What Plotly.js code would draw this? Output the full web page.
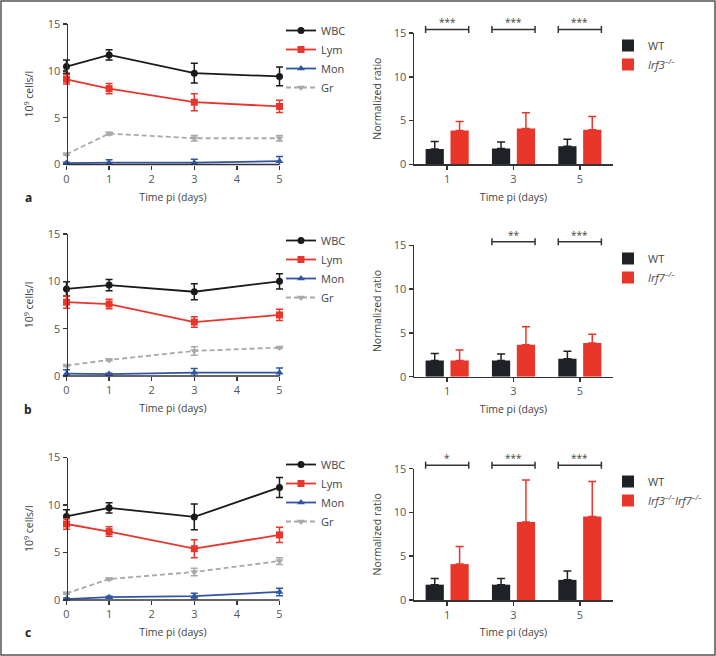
<!DOCTYPE html>
<html>
<head>
<meta charset="utf-8">
<script src="https://cdn.plot.ly/plotly-3.0.1.min.js"></script>
<style>html,body{margin:0;padding:0;background:#fff;}#chart{width:716px;height:656px;}</style>
</head>
<body>
<div id="chart"></div>
<script>
// ---------- DATA ----------
const days = [0, 1, 3, 5];
const cellTypes = ["WBC", "Lym", "Mon", "Gr"];

// panel a (Irf3-/-)
const a_WBC = [10.45, 11.7, 9.75, 9.4];   const a_WBC_sd = [0.7, 0.55, 1.05, 1.0];
const a_Lym = [9.1, 8.1, 6.65, 6.2];      const a_Lym_sd = [0.5, 0.55, 0.9, 0.65];
const a_Mon = [0.15, 0.2, 0.2, 0.35];     const a_Mon_sd = [0.1, 0.3, 0.35, 0.5];
const a_Gr  = [1.1, 3.3, 2.8, 2.8];       const a_Gr_sd  = [0.1, 0.15, 0.3, 0.3];
// panel b (Irf7-/-)
const b_WBC = [9.2, 9.6, 8.9, 10.0];      const b_WBC_sd = [0.75, 0.6, 0.85, 0.8];
const b_Lym = [7.8, 7.6, 5.7, 6.45];      const b_Lym_sd = [0.65, 0.5, 0.55, 0.6];
const b_Mon = [0.25, 0.2, 0.35, 0.35];    const b_Mon_sd = [0.4, 0.1, 0.45, 0.5];
const b_Gr  = [1.1, 1.7, 2.65, 3.0];      const b_Gr_sd  = [0.1, 0.1, 0.45, 0.1];
// panel c (Irf3-/-Irf7-/-)
const c_WBC = [8.8, 9.7, 8.75, 11.85];    const c_WBC_sd = [0.7, 0.55, 1.35, 1.05];
const c_Lym = [8.0, 7.2, 5.4, 6.85];      const c_Lym_sd = [0.55, 0.5, 0.95, 0.8];
const c_Mon = [0.1, 0.3, 0.4, 0.85];      const c_Mon_sd = [0.1, 0.1, 0.3, 0.4];
const c_Gr  = [0.7, 2.2, 2.95, 4.1];      const c_Gr_sd  = [0.1, 0.1, 0.4, 0.35];

// bar charts: normalized ratio
const barDays = ["1", "3", "5"];
const a_WT = [1.75, 1.8, 2.05];   const a_WT_sd = [0.85, 0.75, 0.8];
const a_KO = [3.85, 4.1, 3.95];   const a_KO_sd = [1.05, 1.8, 1.5];
const b_WT = [1.85, 1.85, 2.05];  const b_WT_sd = [0.8, 0.75, 0.85];
const b_KO = [1.85, 3.65, 3.85];  const b_KO_sd = [1.2, 2.05, 1.0];
const c_WT = [1.75, 1.75, 2.3];   const c_WT_sd = [0.7, 0.7, 1.0];
const c_KO = [4.1, 8.9, 9.55];    const c_KO_sd = [2.0, 4.8, 4.0];

const a_sig = ["***", "***", "***"];
const b_sig = ["", "**", "***"];
const c_sig = ["*", "***", "***"];
const sigLevel = 15.4;

const koNames = ["<i>Irf3<sup>–/–</sup></i>", "<i>Irf7<sup>–/–</sup></i>", "<i>Irf3<sup>–/–</sup>Irf7<sup>–/–</sup></i>"];
const panelLetters = ["a", "b", "c"];

// ---------- STYLE ----------
const W = 716, H = 656;
const FONT = "Open Sans, DejaVu Sans, sans-serif";
const AX = "#333333", TXT = "#555555";
const colors = {WBC: "#1a1a1a", Lym: "#e8362c", Mon: "#2f55a4", Gr: "#a9a9a9"};
const symbols = {WBC: "circle", Lym: "square", Mon: "triangle-up", Gr: "triangle-down"};
const WTcol = "#1e2227", KOcol = "#e8362b";

function px2x(p) { return p / W; }
function px2y(p) { return 1 - p / H; }

const rows = [
  {lb: 164.5, lt: 24, rb: 164.3, rt: 33, legL: 16, legR: 31, letterY: 197},
  {lb: 376, lt: 234, rb: 376.7, rt: 245.3, legL: 226, legR: 244, letterY: 409},
  {lb: 600, lt: 457.5, rb: 600, rt: 468.7, legL: 450, legR: 467, letterY: 632}
];

const lineSets = [
  [[a_WBC, a_WBC_sd], [a_Lym, a_Lym_sd], [a_Mon, a_Mon_sd], [a_Gr, a_Gr_sd]],
  [[b_WBC, b_WBC_sd], [b_Lym, b_Lym_sd], [b_Mon, b_Mon_sd], [b_Gr, b_Gr_sd]],
  [[c_WBC, c_WBC_sd], [c_Lym, c_Lym_sd], [c_Mon, c_Mon_sd], [c_Gr, c_Gr_sd]]
];
const barSets = [
  [a_WT, a_WT_sd, a_KO, a_KO_sd, a_sig],
  [b_WT, b_WT_sd, b_KO, b_KO_sd, b_sig],
  [c_WT, c_WT_sd, c_KO, c_KO_sd, c_sig]
];

const traces = [];
const layout = {
  width: W, height: H,
  margin: {l: 0, r: 0, t: 0, b: 0},
  paper_bgcolor: "#fff", plot_bgcolor: "#fff",
  font: {family: FONT, size: 11, color: TXT},
  barmode: "group",
  showlegend: true,
  shapes: [], annotations: []
};

function axisBase() {
  return {
    showgrid: false, zeroline: false, showline: true, linecolor: AX, linewidth: 1.5,
    ticks: "outside", ticklen: 4, tickwidth: 1.5, tickcolor: AX,
    tickfont: {family: FONT, size: 11, color: TXT}, fixedrange: true
  };
}

// left chart: x from 0 to 5 spans 66.5..279.5 px; a small pad keeps error caps unclipped
const lx0 = 66.5, lx1 = 279.5, pad = 0.12;
const pxPerDay = (lx1 - lx0) / 5;

rows.forEach((r, i) => {
  const lx = 2 * i + 1, rx = 2 * i + 2;
  const lxName = lx === 1 ? "x" : "x" + lx, lyName = lx === 1 ? "y" : "y" + lx;
  const rxName = "x" + rx, ryName = "y" + rx;
  const lxKey = lx === 1 ? "xaxis" : "xaxis" + lx, lyKey = lx === 1 ? "yaxis" : "yaxis" + lx;
  const rxKey = "xaxis" + rx, ryKey = "yaxis" + rx;
  const legL = lx === 1 ? "legend" : "legend" + lx;
  const legR = "legend" + rx;

  // ----- line chart -----
  cellTypes.forEach((ct, k) => {
    const [vals, sd] = lineSets[i][k];
    traces.push({
      type: "scatter", mode: "lines+markers", x: days, y: vals, name: ct,
      xaxis: lxName, yaxis: lyName, legend: legL, cliponaxis: false,
      line: {color: colors[ct], width: 1.8, dash: ct === "Gr" ? "5px,3px" : "solid"},
      marker: {symbol: symbols[ct], size: 7, color: colors[ct]},
      error_y: {type: "data", array: sd, visible: true, color: colors[ct], thickness: 1.5, width: 3.5}
    });
  });
  layout[lxKey] = Object.assign(axisBase(), {
    domain: [px2x(lx0 - pad * pxPerDay), px2x(lx1 + pad * pxPerDay)], range: [-pad, 5 + pad], anchor: lyName,
    showline: false, tickvals: [0, 1, 2, 3, 4, 5],
    title: {text: "Time pi (days)", font: {family: FONT, size: 10.5, color: "#444"}, standoff: 8}
  });
  layout[lyKey] = Object.assign(axisBase(), {
    domain: [px2y(r.lb), px2y(r.lt)], range: [0, 15], anchor: "free", position: px2x(lx0),
    tickvals: [0, 5, 10, 15],
    title: {text: "10<sup>9</sup> cells/l", font: {family: FONT, size: 10.5, color: "#444"}, standoff: 10}
  });
  // x axis line spanning only 0..5
  layout.shapes.push({type: "line", xref: lxName, yref: lyName + " domain", x0: 0, x1: 5, y0: 0, y1: 0,
    line: {color: AX, width: 1.5}, layer: "above"});
  layout[legL] = {
    x: px2x(281), y: px2y(r.legL), xanchor: "left", yanchor: "top",
    bgcolor: "rgba(0,0,0,0)", borderwidth: 0,
    font: {family: FONT, size: 11, color: "#444"}
  };

  // ----- bar chart -----
  const [wt, wtsd, ko, kosd, sig] = barSets[i];
  traces.push({
    type: "bar", x: barDays, y: wt, name: "WT", xaxis: rxName, yaxis: ryName, legend: legR,
    marker: {color: WTcol}, width: 0.275, offset: -0.325,
    error_y: {type: "data", symmetric: false, array: wtsd, arrayminus: wtsd.map(() => 0), color: WTcol, thickness: 1.5, width: 4}
  });
  traces.push({
    type: "bar", x: barDays, y: ko, name: koNames[i], xaxis: rxName, yaxis: ryName, legend: legR,
    marker: {color: KOcol}, width: 0.275, offset: 0.05,
    error_y: {type: "data", symmetric: false, array: kosd, arrayminus: kosd.map(() => 0), color: KOcol, thickness: 1.5, width: 4}
  });
  layout[rxKey] = Object.assign(axisBase(), {
    domain: [px2x(414), px2x(613)], range: [-0.5, 2.5], anchor: ryName, type: "category",
    title: {text: "Time pi (days)", font: {family: FONT, size: 10.5, color: "#444"}, standoff: 8}
  });
  layout[ryKey] = Object.assign(axisBase(), {
    domain: [px2y(r.rb), px2y(r.rt)], range: [0, 15], anchor: rxName,
    tickvals: [0, 5, 10, 15],
    title: {text: "Normalized ratio", font: {family: FONT, size: 10.5, color: "#444"}, standoff: 10}
  });
  layout[legR] = {
    x: px2x(608), y: px2y(r.legR), xanchor: "left", yanchor: "top",
    bgcolor: "rgba(0,0,0,0)", borderwidth: 0,
    font: {family: FONT, size: 11, color: "#444"}
  };

  // significance brackets
  const ymax = layout[ryKey].range[1];
  const cap = 0.4;
  const yd = ryName + " domain";
  sig.forEach((s, j) => {
    if (!s) return;
    const x0 = j - 0.325, x1 = j + 0.325;
    const ln = {color: AX, width: 1.5};
    layout.shapes.push({type: "line", xref: rxName, yref: yd, x0: x0, x1: x1, y0: sigLevel / ymax, y1: sigLevel / ymax, line: ln});
    layout.shapes.push({type: "line", xref: rxName, yref: yd, x0: x0, x1: x0, y0: (sigLevel - cap) / ymax, y1: (sigLevel + cap) / ymax, line: ln});
    layout.shapes.push({type: "line", xref: rxName, yref: yd, x0: x1, x1: x1, y0: (sigLevel - cap) / ymax, y1: (sigLevel + cap) / ymax, line: ln});
    layout.annotations.push({xref: rxName, yref: yd, x: j, y: sigLevel / ymax, yanchor: "bottom", yshift: -2,
      text: s, showarrow: false, font: {family: FONT, size: 10, color: "#444"}});
  });

  // panel letter
  layout.annotations.push({xref: "paper", yref: "paper", x: px2x(28), y: px2y(r.letterY), xanchor: "center", yanchor: "middle",
    text: "<b>" + panelLetters[i] + "</b>", showarrow: false, font: {family: FONT, size: 12, color: "#222"}});
});

// frame
layout.shapes.push({type: "rect", xref: "paper", yref: "paper", x0: px2x(1), x1: px2x(715), y0: px2y(655), y1: px2y(1),
  line: {color: "#555", width: 1.5}, fillcolor: "rgba(0,0,0,0)", layer: "above"});

Plotly.newPlot("chart", traces, layout, {staticPlot: true, displayModeBar: false});
</script>
</body>
</html>
